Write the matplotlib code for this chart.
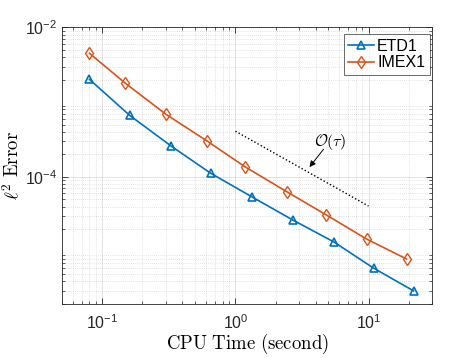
import matplotlib
matplotlib.use("Agg")
import math
import matplotlib.pyplot as plt
from matplotlib.ticker import LogLocator, FuncFormatter, NullFormatter, FixedLocator

plt.rcParams['font.family'] = ['Liberation Sans', 'DejaVu Sans']
plt.rcParams['mathtext.fontset'] = 'custom'
plt.rcParams['mathtext.rm'] = 'Liberation Sans'
plt.rcParams['mathtext.it'] = 'Liberation Sans:italic'
plt.rcParams['mathtext.bf'] = 'Liberation Sans:bold'

# Data
etd1_time = [0.080, 0.16, 0.33, 0.65, 1.34, 2.7, 5.5, 10.9, 21.8]
etd1_err = [2.02e-3, 6.68e-4, 2.57e-4, 1.12e-4, 5.35e-5, 2.64e-5, 1.34e-5, 6.0e-6, 2.97e-6]
imex1_time = [0.080, 0.149, 0.30, 0.615, 1.19, 2.46, 4.83, 9.66, 19.3]
imex1_err = [4.51e-3, 1.79e-3, 6.89e-4, 3.0e-4, 1.35e-4, 6.24e-5, 3.08e-5, 1.47e-5, 7.94e-6]
ref_time = [1.0, 10.0]
ref_err = [4.08e-4, 4.06e-5]
series_labels = ['ETD1', 'IMEX1']
y_major_ticks = [1e-4, 1e-2]

blue = '#0072BD'
orange = '#D95319'

fig = plt.figure(figsize=(4.77, 3.58), dpi=100)
ax = fig.add_axes([0.1306, 0.1517, 0.7751, 0.7715])

ax.loglog(etd1_time, etd1_err, color=blue, lw=1.2, marker='^', ms=6,
          mfc='none', mec=blue, mew=1.2, label=series_labels[0])
ax.loglog(imex1_time, imex1_err, color=orange, lw=1.2, marker='d', ms=6,
          mfc='none', mec=orange, mew=1.0, label=series_labels[1])
ax.loglog(ref_time, ref_err, color='black', lw=1.0, ls=(0, (1, 1.6)))

ax.set_xlim(0.05, 30)
ax.set_ylim(2e-6, 1e-2)

ax.xaxis.set_major_locator(LogLocator(base=10, numticks=10))
ax.yaxis.set_major_locator(FixedLocator(y_major_ticks))
ax.xaxis.set_minor_locator(LogLocator(base=10, subs=range(2, 10), numticks=20))
ax.yaxis.set_minor_locator(LogLocator(base=10, subs=range(2, 10), numticks=20))
ax.xaxis.set_minor_formatter(NullFormatter())
ax.yaxis.set_minor_formatter(NullFormatter())

def fmt(v, pos):
    e = int(round(math.log10(v)))
    return r'$10^{%d}$' % e
ax.xaxis.set_major_formatter(FuncFormatter(fmt))
ax.yaxis.set_major_formatter(FuncFormatter(fmt))

ax.grid(True, which='major', color='#262626', alpha=0.15, lw=0.6)
ax.grid(True, which='minor', color='#262626', alpha=0.25, lw=0.5, ls=(0, (1, 2)))

ax.tick_params(which='both', direction='in', top=True, right=True,
               colors='#262626', labelsize=11.5)
ax.tick_params(which='major', length=4, width=0.6)
ax.tick_params(which='minor', length=2, width=0.5)
ax.tick_params(axis='x', pad=7)
for s in ax.spines.values():
    s.set_color('#262626')
    s.set_linewidth(0.6)

ax.set_xlabel(r'$\mathrm{CPU\ Time\ (second)}$', fontsize=13.5,
              math_fontfamily='cm', labelpad=0)
ax.set_ylabel(r'$\ell^2\ \mathrm{Error}$', fontsize=13.5,
              math_fontfamily='cm', labelpad=1)

ax.annotate('', xy=(3.6, 1.35e-4), xytext=(4.59, 2.34e-4),
            arrowprops=dict(arrowstyle='-|>', color='black', lw=0.7,
                            mutation_scale=9, shrinkA=0, shrinkB=0))
ax.text(5.18, 2.91e-4, r'$\mathcal{O}(\tau)$', fontsize=11.5,
        math_fontfamily='cm', ha='center', va='center')

leg = ax.legend(loc='upper right', bbox_to_anchor=(430 / 477, 1 - 34 / 358),
                bbox_transform=fig.transFigure, borderaxespad=0,
                fontsize=11.5, frameon=True, fancybox=False,
                edgecolor='#262626', borderpad=0.3, handlelength=1.6,
                handletextpad=0.2, labelspacing=0.1)
leg.get_frame().set_linewidth(0.6)

fig.savefig('out.png', dpi=100)
